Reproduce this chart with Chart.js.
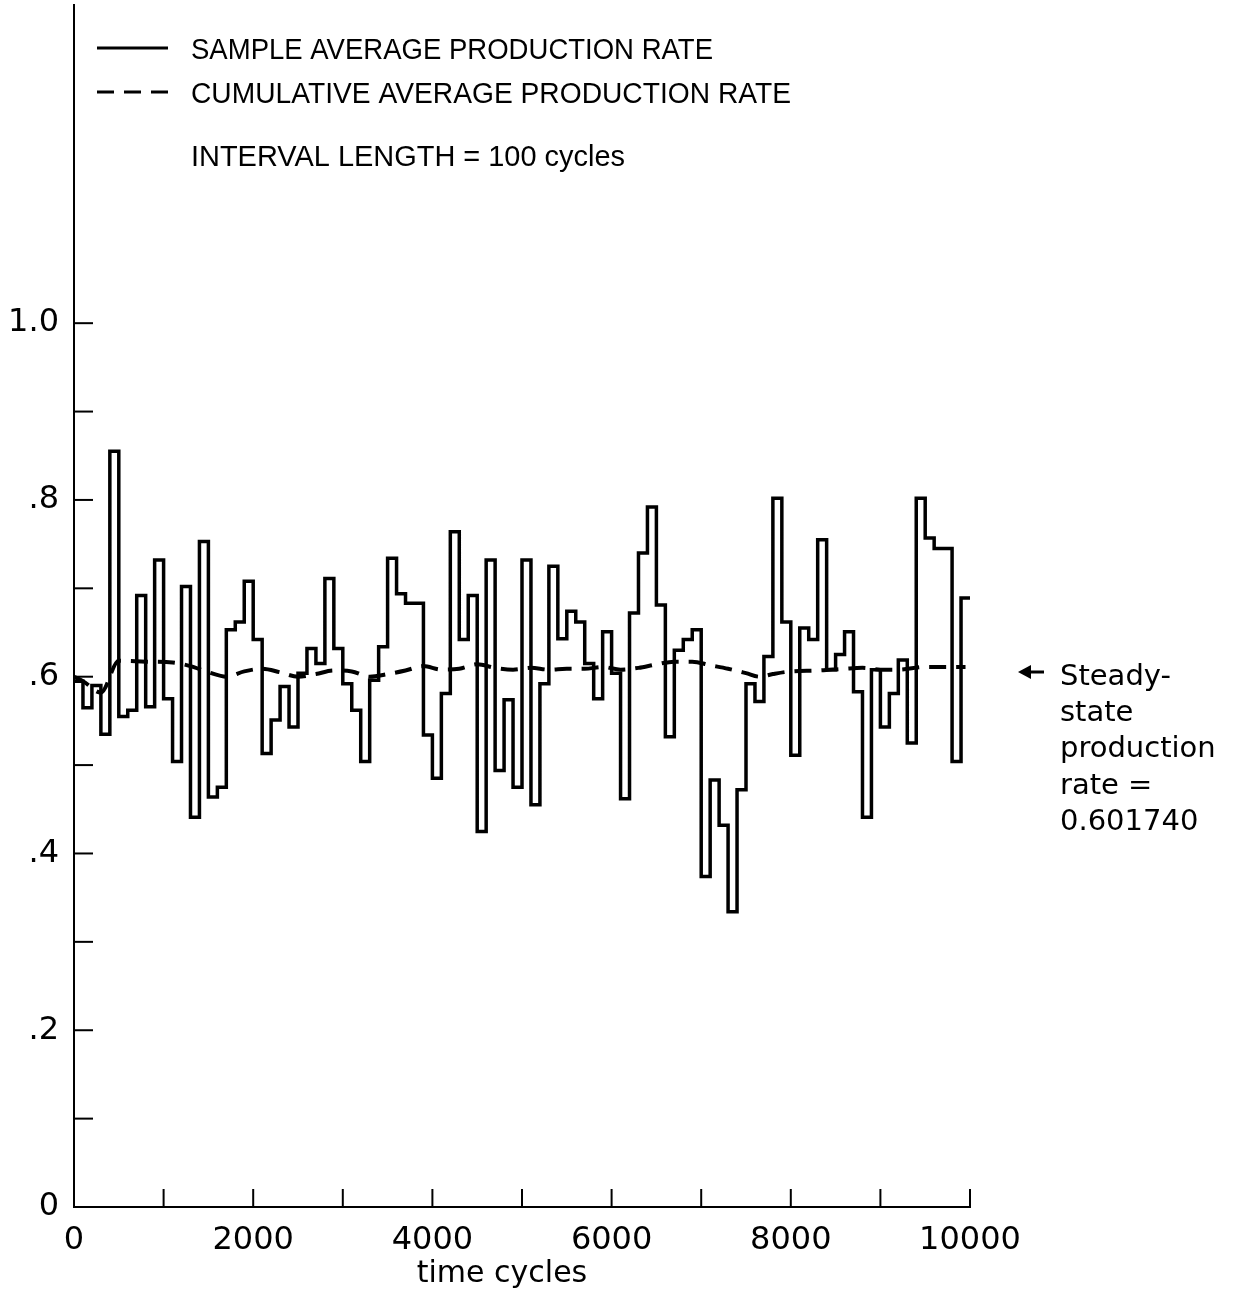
<!DOCTYPE html>
<html>
<head>
<meta charset="utf-8">
<script src="https://cdn.jsdelivr.net/npm/chart.js@4"></script>
<style>
  html, body { margin: 0; padding: 0; background: #fff; }
  #chart { display: block; }
</style>
</head>
<body>
<canvas id="chart" width="1238" height="1293"></canvas>
<script>
// === Data ===
const INTERVAL = 100; // cycles per sample interval

// sample average production rate, one value per 100-cycle interval
const sampleRate = [
    0.595, 0.565, 0.590, 0.535, 0.855, 0.555, 0.562, 0.692, 0.566, 0.732,
    0.575, 0.504, 0.702, 0.441, 0.753, 0.464, 0.475, 0.653, 0.662, 0.708,
    0.642, 0.513, 0.551, 0.589, 0.543, 0.604, 0.632, 0.615, 0.711, 0.632,
    0.592, 0.562, 0.504, 0.596, 0.634, 0.734, 0.694, 0.683, 0.683, 0.534,
    0.485, 0.581, 0.764, 0.642, 0.692, 0.425, 0.732, 0.494, 0.574, 0.475,
    0.732, 0.455, 0.592, 0.725, 0.643, 0.674, 0.662, 0.615, 0.575, 0.651,
    0.604, 0.462, 0.672, 0.740, 0.792, 0.681, 0.532, 0.630, 0.642, 0.653,
    0.374, 0.483, 0.432, 0.334, 0.472, 0.592, 0.572, 0.623, 0.802, 0.662,
    0.511, 0.655, 0.642, 0.755, 0.608, 0.625, 0.651, 0.583, 0.441, 0.608,
    0.543, 0.581, 0.619, 0.525, 0.802, 0.757, 0.745, 0.745, 0.504, 0.689,
];

// cumulative average production rate
const cumCycles = [
    0, 100, 300, 500, 800, 1100, 1300, 1500, 1700, 1900,
    2100, 2300, 2500, 2700, 2900, 3100, 3300, 3500, 3700, 3900,
    4100, 4300, 4500, 4700, 4900, 5100, 5300, 5500, 5700, 5900,
    6100, 6300, 6500, 6700, 6900, 7100, 7300, 7500, 7650, 7800,
    8000, 8300, 8600, 8800, 9000, 9200, 9500, 9800, 9950,
];
const cumRate = [
    0.600, 0.595, 0.582, 0.618, 0.617, 0.616, 0.612, 0.605, 0.600, 0.606,
    0.609, 0.605, 0.600, 0.603, 0.607, 0.606, 0.600, 0.603, 0.607, 0.612,
    0.608, 0.609, 0.614, 0.610, 0.608, 0.610, 0.608, 0.609, 0.609, 0.611,
    0.608, 0.610, 0.614, 0.617, 0.617, 0.613, 0.609, 0.604, 0.600, 0.603,
    0.606, 0.607, 0.609, 0.610, 0.608, 0.608, 0.611, 0.611, 0.611,
];

// axis ticks
const xTicks = [1000, 2000, 3000, 4000, 5000, 6000, 7000, 8000, 9000, 10000];
const xTickLabels = { 0: "0", 2000: "2000", 4000: "4000", 6000: "6000", 8000: "8000", 10000: "10000" };
const yTicks = [0.1, 0.2, 0.3, 0.4, 0.5, 0.6, 0.7, 0.8, 0.9, 1.0];
const yTickLabels = { 0: "0", 2: ".2", 4: ".4", 6: ".6", 8: ".8", 10: "1.0" };

const legendLines = [
    "SAMPLE AVERAGE PRODUCTION RATE",
    "CUMULATIVE AVERAGE PRODUCTION RATE",
    "INTERVAL LENGTH = 100 cycles",
];
const noteLines = ["Steady-", "state", "production", "rate =", "0.601740"];
const xTitle = "time cycles";

// === Build series ===
const stepData = sampleRate.map((v, i) => ({ x: i * INTERVAL, y: v }));
stepData.push({ x: sampleRate.length * INTERVAL, y: sampleRate[sampleRate.length - 1] });
const cumData = cumCycles.map((c, i) => ({ x: c, y: cumRate[i] }));

// === Decorations: inward ticks, legend, note ===
const decor = {
    id: "decor",
    afterDraw(chart) {
        const { ctx, scales: { x, y } } = chart;
        const x0 = x.getPixelForValue(0);
        const y0 = y.getPixelForValue(0);
        ctx.save();
        ctx.strokeStyle = "#000";
        ctx.fillStyle = "#000";
        ctx.lineWidth = 2;

        xTicks.forEach(v => {
            const px = x.getPixelForValue(v);
            ctx.beginPath();
            ctx.moveTo(px, y0);
            ctx.lineTo(px, y0 - 18);
            ctx.stroke();
        });
        yTicks.forEach(v => {
            const py = y.getPixelForValue(v);
            ctx.beginPath();
            ctx.moveTo(x0, py);
            ctx.lineTo(x0 + 19, py);
            ctx.stroke();
        });

        // legend samples
        ctx.lineWidth = 3;
        ctx.beginPath();
        ctx.moveTo(97, 48);
        ctx.lineTo(168, 48);
        ctx.stroke();
        ctx.setLineDash([17, 10]);
        ctx.beginPath();
        ctx.moveTo(97, 92);
        ctx.lineTo(168, 92);
        ctx.stroke();
        ctx.setLineDash([]);

        ctx.textBaseline = "alphabetic";
        ctx.textAlign = "left";
        ctx.font = "30px 'Liberation Sans'";
        ctx.fillText(legendLines[0], 191, 59, 522);
        ctx.fillText(legendLines[1], 191, 103, 600);
        ctx.fillText(legendLines[2], 191, 166, 434);

        // steady-state note with arrow
        ctx.beginPath();
        ctx.moveTo(1018, 672);
        ctx.lineTo(1031, 665);
        ctx.lineTo(1031, 679);
        ctx.closePath();
        ctx.fill();
        ctx.lineWidth = 3;
        ctx.beginPath();
        ctx.moveTo(1028, 672);
        ctx.lineTo(1044, 672);
        ctx.stroke();

        ctx.font = "29px 'DejaVu Sans'";
        const baselines = [685, 721, 757, 794, 830];
        noteLines.forEach((t, i) => ctx.fillText(t, 1060, baselines[i]));

        // axis title
        ctx.textAlign = "center";
        ctx.font = "30px 'DejaVu Sans'";
        ctx.fillText(xTitle, 502, 1282);
        ctx.restore();
    },
};

new Chart(document.getElementById("chart"), {
    type: "line",
    data: {
        datasets: [
            {
                label: "Cumulative average production rate",
                data: cumData,
                borderColor: "#000",
                borderWidth: 4,
                borderDash: [17, 10],
                pointRadius: 0,
                cubicInterpolationMode: "monotone",
                fill: false,
            },
            {
                label: "Sample average production rate",
                data: stepData,
                borderColor: "#000",
                borderWidth: 3.5,
                pointRadius: 0,
                stepped: "before",
                fill: false,
            },
        ],
    },
    options: {
        responsive: false,
        animation: false,
        devicePixelRatio: 1,
        layout: { padding: { top: 5, right: 268, left: 0, bottom: 0 } },
        plugins: {
            legend: { display: false },
            tooltip: { enabled: false },
        },
        scales: {
            x: {
                type: "linear",
                min: 0,
                max: 10000,
                afterFit: s => { s.height = 86; s.paddingLeft = 0; s.paddingRight = 0; },
                border: { display: true, color: "#000", width: 2 },
                grid: { display: false, drawTicks: false },
                ticks: {
                    stepSize: 1000,
                    autoSkip: false,
                    maxRotation: 0,
                    padding: 14,
                    color: "#000",
                    font: { family: "DejaVu Sans", size: 32 },
                    callback: v => xTickLabels[v] ?? null,
                },
            },
            y: {
                type: "linear",
                min: 0,
                max: 1.36,
                afterFit: s => { s.width = 74; s.paddingTop = 0; s.paddingBottom = 0; },
                border: { display: true, color: "#000", width: 2 },
                grid: { display: false, drawTicks: false },
                ticks: {
                    stepSize: 0.1,
                    autoSkip: false,
                    padding: 15,
                    color: "#000",
                    font: { family: "DejaVu Sans", size: 32 },
                    callback: v => {
                        const k = Math.round(v * 10);
                        return Math.abs(v * 10 - k) < 1e-6 ? (yTickLabels[k] ?? null) : null;
                    },
                },
            },
        },
    },
    plugins: [decor],
});
</script>
</body>
</html>
